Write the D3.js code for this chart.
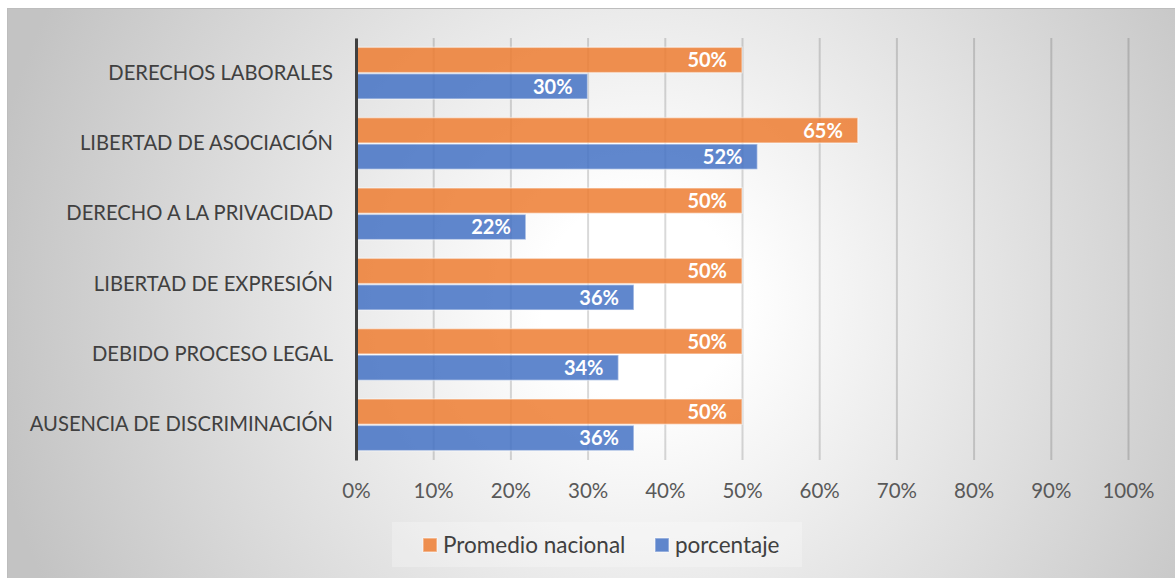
<!DOCTYPE html>
<html>
<head>
<meta charset="utf-8">
<script src="https://cdn.jsdelivr.net/npm/d3@7"></script>
<style>
  html, body { margin: 0; padding: 0; background: #fff; }
  svg { display: block; font-family: Lato, "Open Sans", sans-serif; }
</style>
</head>
<body>
<svg id="chart" width="1175" height="578"></svg>
<script>
// --- Data ---
const categories = [
    "DERECHOS LABORALES",
    "LIBERTAD DE ASOCIACIÓN",
    "DERECHO A LA PRIVACIDAD",
    "LIBERTAD DE EXPRESIÓN",
    "DEBIDO PROCESO LEGAL",
    "AUSENCIA DE DISCRIMINACIÓN"
];
const seriesNames = ["Promedio nacional", "porcentaje"];
const promedioNacional = [0.50, 0.65, 0.50, 0.50, 0.50, 0.50];
const porcentaje = [0.30, 0.52, 0.22, 0.36, 0.34, 0.36];
const xTicks = [0, 0.1, 0.2, 0.3, 0.4, 0.5, 0.6, 0.7, 0.8, 0.9, 1.0];

const seriesValues = [promedioNacional, porcentaje];
const colors = { "Promedio nacional": "#ED7D31", "porcentaje": "#4472C4" };

// --- Layout ---
const svg = d3.select("#chart");
const W = 1175, H = 578;
const plot = { left: 356, right: 1128, top: 38, bottom: 460 };

// background with radial gradient
const defs = svg.append("defs");
const grad = defs.append("radialGradient")
    .attr("id", "bg")
    .attr("gradientUnits", "userSpaceOnUse")
    .attr("cx", 640).attr("cy", 300).attr("r", 660);
grad.append("stop").attr("offset", "0").attr("stop-color", "#ffffff");
grad.append("stop").attr("offset", "0.15").attr("stop-color", "#ffffff");
grad.append("stop").attr("offset", "1").attr("stop-color", "#c3c3c3");

svg.append("rect")
    .attr("x", 7.5).attr("y", 8.5)
    .attr("width", W).attr("height", H)
    .attr("fill", "url(#bg)")
    .attr("stroke", "#bdbdbd")
    .attr("stroke-width", 1);

// --- Scales ---
const x = d3.scaleLinear().domain([0, 1]).range([plot.left, plot.right]);
const y = d3.scaleBand()
    .domain(categories)
    .range([plot.top, plot.bottom])
    .paddingInner(0.265)
    .paddingOuter(0.1325);
const ySub = d3.scaleBand()
    .domain(seriesNames)
    .range([0, y.bandwidth()])
    .paddingInner(0.04);

// gridlines
svg.append("g")
    .attr("transform", `translate(0,${plot.bottom})`)
    .call(d3.axisBottom(x).tickValues(xTicks).tickSize(-(plot.bottom - plot.top)).tickFormat(""))
    .call(g => g.select(".domain").remove())
    .call(g => g.selectAll(".tick line")
        .attr("stroke", "#000")
        .attr("stroke-opacity", 0.15)
        .attr("stroke-width", 2));

// tick labels
svg.append("g")
    .attr("transform", `translate(0,${plot.bottom})`)
    .call(d3.axisBottom(x).tickValues(xTicks).tickSize(0).tickPadding(23).tickFormat(d3.format(".0%")))
    .call(g => g.select(".domain").remove())
    .call(g => g.selectAll("text")
        .attr("fill", "#595959")
        .attr("font-size", "20.5px")
        .attr("font-family", "Lato, sans-serif"));

// bars
const rows = categories.map((c, i) => ({
    category: c,
    values: seriesNames.map((s, j) => ({ series: s, value: seriesValues[j][i] }))
}));

const groups = svg.append("g").selectAll("g")
    .data(rows)
    .join("g")
    .attr("transform", d => `translate(0,${y(d.category)})`);

groups.selectAll("rect")
    .data(d => d.values)
    .join("rect")
    .attr("x", x(0))
    .attr("y", d => ySub(d.series))
    .attr("width", d => x(d.value) - x(0))
    .attr("height", ySub.bandwidth())
    .attr("fill", d => colors[d.series])
    .attr("fill-opacity", 0.85)
    .attr("stroke", "#fff")
    .attr("stroke-opacity", 0.45)
    .attr("stroke-width", 1.5);

groups.selectAll("text")
    .data(d => d.values)
    .join("text")
    .attr("x", d => x(d.value) - 15)
    .attr("y", d => ySub(d.series) + ySub.bandwidth() / 2)
    .attr("dy", "0.36em")
    .attr("text-anchor", "end")
    .attr("fill", "#fff")
    .attr("font-weight", "bold")
    .attr("font-size", "20px")
    .text(d => d3.format(".0%")(d.value));

// vertical category axis
svg.append("g")
    .attr("transform", `translate(${plot.left},0)`)
    .call(d3.axisLeft(y).tickSize(0).tickPadding(23))
    .call(g => g.select(".domain")
        .attr("stroke", "#404040")
        .attr("stroke-width", 3))
    .call(g => g.selectAll("text")
        .attr("fill", "#404040")
        .attr("font-size", "20.2px")
        .attr("font-family", "Lato, sans-serif"));

// --- Legend ---
const legend = svg.append("g");
legend.append("rect")
    .attr("x", 392).attr("y", 522)
    .attr("width", 410).attr("height", 45)
    .attr("fill", "#fff")
    .attr("fill-opacity", 0.25);

const legendX = [423, 655];
const items = legend.selectAll("g.item")
    .data(seriesNames)
    .join("g")
    .attr("class", "item")
    .attr("transform", (d, i) => `translate(${legendX[i]},538)`);

items.append("rect")
    .attr("width", 14).attr("height", 14)
    .attr("fill", d => colors[d])
    .attr("fill-opacity", 0.85)
    .attr("stroke", "#fff")
    .attr("stroke-opacity", 0.45)
    .attr("stroke-width", 1.5);

items.append("text")
    .attr("x", 20)
    .attr("y", 7)
    .attr("dy", "0.36em")
    .attr("fill", "#404040")
    .attr("font-size", "22.5px")
    .text(d => d);
</script>
</body>
</html>
